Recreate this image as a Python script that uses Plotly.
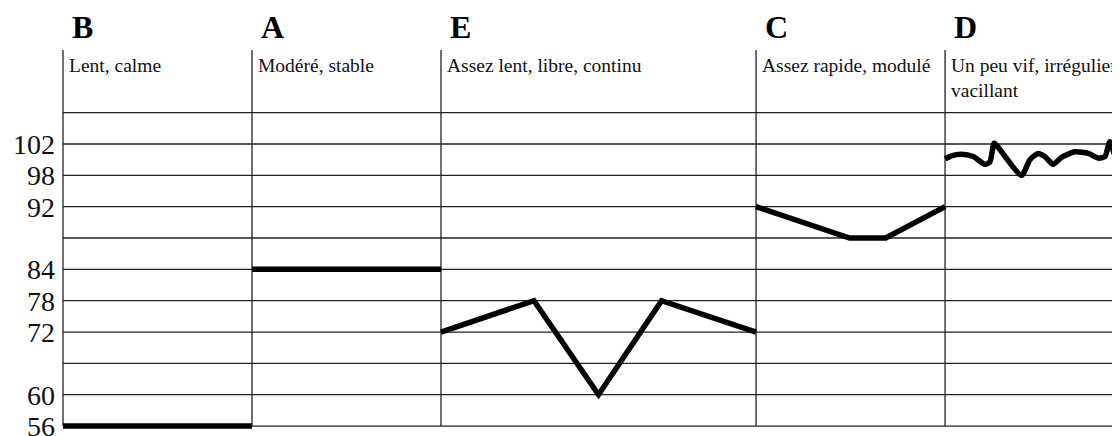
import numpy as np
import plotly.graph_objects as go

# ---- data ----
columns = ["B", "A", "E", "C", "D"]
descriptions = ["Lent, calme", "Modéré, stable", "Assez lent, libre, continu",
                "Assez rapide, modulé", "Un peu vif, irrégulier<br>vacillant"]
col_widths = [1.0, 1.0, 1.667, 1.0, 1.0]

# grid rows (bpm levels, bottom to top); unlabeled rows included
grid_levels = [56, 60, 66, 72, 78, 84, 88, 92, 98, 102, 106]
tick_levels = [56, 60, 72, 78, 84, 92, 98, 102]
tick_labels = ["56", "60", "72", "78", "84", "92", "98", "102"]

# series: fraction of column width, bpm
B_frac = [0.0, 1.0]
B_vals = [56, 56]
A_frac = [0.0, 1.0]
A_vals = [84, 84]
E_frac = [0.0, 0.295, 0.5, 0.70, 1.0]
E_vals = [72, 78, 60, 78, 72]
C_frac = [0.0, 0.495, 0.686, 1.0]
C_vals = [92, 88, 88, 92]
D_frac = [0.0, 0.034, 0.087, 0.149, 0.211, 0.237, 0.260, 0.290, 0.405, 0.449,
          0.493, 0.528, 0.572, 0.616, 0.687, 0.758, 0.811, 0.846, 0.872, 0.898, 0.934]
D_vals = [100.1, 100.5, 100.7, 100.4, 99.4, 99.7, 102.1, 101.3, 98.0, 100.0,
          100.8, 100.4, 99.4, 100.3, 101.0, 100.8, 100.2, 100.4, 102.3, 100.6, 99.5]

series = [(B_frac, B_vals), (A_frac, A_vals), (E_frac, E_vals), (C_frac, C_vals), (D_frac, D_vals)]

# ---- scales ----
starts = np.concatenate([[0.0], np.cumsum(col_widths)])
rows = np.arange(len(grid_levels))


def to_row(v):
    return np.interp(v, grid_levels, rows)


FONT = "Liberation Serif, Times New Roman, serif"
fig = go.Figure()

for i, (fr, vals) in enumerate(series):
    x = starts[i] + np.array(fr) * col_widths[i]
    y = to_row(np.array(vals, dtype=float))
    shape = "spline" if columns[i] == "D" else "linear"
    fig.add_trace(go.Scatter(x=x, y=y, mode="lines",
                             line=dict(color="black", width=5.5, shape=shape, smoothing=0.6),
                             hoverinfo="skip", showlegend=False))

top = 12.0
shapes = []
for r in rows:
    shapes.append(dict(type="line", xref="x", yref="y", x0=0, x1=starts[-1], y0=r, y1=r,
                       line=dict(color="#222", width=1.3), layer="below"))
for s in starts:
    shapes.append(dict(type="line", xref="x", yref="y", x0=s, x1=s, y0=0, y1=top,
                       line=dict(color="#222", width=1.3), layer="below"))

annotations = []
for i, (c, d) in enumerate(zip(columns, descriptions)):
    annotations.append(dict(x=starts[i], y=1, xref="x", yref="paper", text="<b>%s</b>" % c,
                            showarrow=False, xanchor="left", yanchor="middle",
                            xshift=7, yshift=23,
                            font=dict(family=FONT, size=32, color="black")))
    annotations.append(dict(x=starts[i], y=1, xref="x", yref="paper", text=d,
                            showarrow=False, xanchor="left", yanchor="top", align="left",
                            xshift=4, yshift=-3,
                            font=dict(family=FONT, size=19.5, color="#111")))

# page body has an 8px default margin; the figure is sized to fill the rest of the window
fig.update_layout(
    width=1112, height=428,
    margin=dict(l=51, r=0, t=42, b=4, autoexpand=False),
    paper_bgcolor="white", plot_bgcolor="white",
    shapes=shapes, annotations=annotations,
    xaxis=dict(range=[-4 / 189, 1057 / 189], showgrid=False, zeroline=False,
               showticklabels=False, ticks="", showline=False, automargin=False),
    yaxis=dict(range=[-0.19, top], showgrid=False, zeroline=False, automargin=False,
               tickvals=[float(to_row(v)) for v in tick_levels], ticktext=tick_labels,
               ticks="", showline=False, ticklabelstandoff=3, ticklabeloverflow="allow",
               tickfont=dict(family=FONT, size=28, color="#111")),
)

fig.write_html("out.html")
